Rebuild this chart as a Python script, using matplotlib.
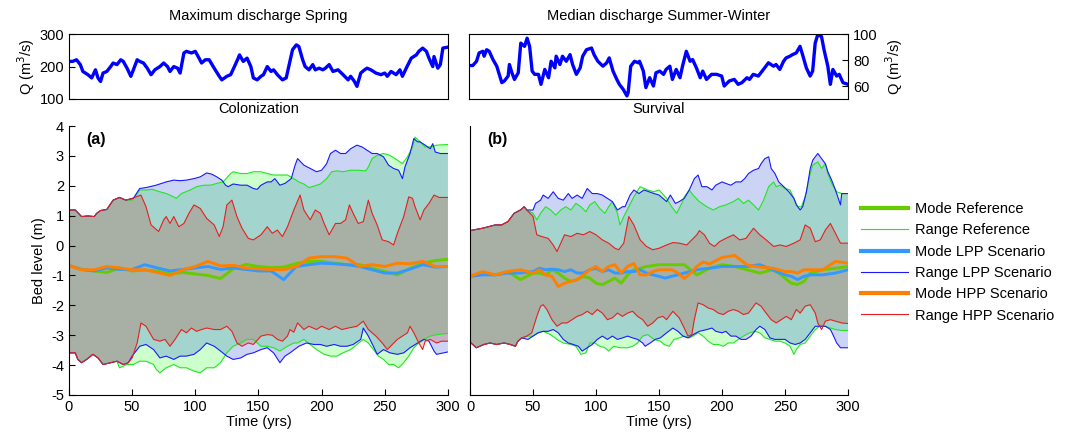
import numpy as np
import matplotlib
matplotlib.use("Agg")
import matplotlib.pyplot as plt

plt.rcParams['font.family'] = ['Liberation Sans', 'DejaVu Sans']
plt.rcParams['font.size'] = 10.5
plt.rcParams['axes.unicode_minus'] = False

# ---- discharge series (top panels) ----
q_spring_t = [0, 3, 6, 9, 11, 15, 18, 21, 23, 25, 27, 30, 33, 35, 38, 41, 43, 46, 49, 51, 54, 56, 59, 62, 65, 68, 70, 72, 75, 78,
              80, 83, 86, 88, 91, 93, 97, 100, 103, 105, 108, 111, 115, 119, 121, 125, 128, 131, 134, 135, 138, 141, 144, 146, 149,
              152, 154, 157, 160, 162, 165, 169, 172, 174, 177, 180, 182, 185, 187, 190, 193, 195, 198, 201, 203, 206, 209, 213,
              217, 221, 223, 226, 228, 231, 234, 236, 239, 243, 247, 250, 252, 255, 259, 262, 264, 267, 271, 275, 277, 280, 283,
              285, 288, 289, 292, 294, 296, 300]
q_spring = [216, 216, 221, 206, 185, 175, 165, 190, 165, 154, 180, 185, 200, 211, 206, 221, 216, 195, 170, 190, 221, 216, 211, 195,
            175, 190, 195, 200, 211, 200, 185, 200, 195, 180, 242, 247, 242, 247, 226, 211, 221, 221, 195, 170, 159, 170, 175, 200,
            226, 236, 216, 226, 200, 165, 159, 170, 175, 200, 185, 190, 175, 159, 165, 200, 252, 267, 262, 221, 200, 190, 206, 190,
            195, 190, 195, 206, 185, 190, 175, 159, 170, 154, 139, 180, 190, 195, 190, 180, 175, 180, 170, 185, 175, 190, 170, 195,
            226, 236, 247, 257, 247, 226, 200, 231, 195, 206, 257, 260]

q_winter_t = [0, 3, 6, 8, 11, 12, 14, 16, 19, 22, 24, 26, 28, 31, 32, 34, 36, 39, 41, 44, 46, 48, 50, 52, 55, 57, 60, 63, 65, 68,
              69, 72, 74, 77, 80, 82, 85, 88, 90, 93, 97, 99, 102, 106, 109, 111, 114, 117, 119, 122, 125, 126, 128, 131, 134, 135,
              138, 140, 143, 146, 148, 151, 154, 156, 159, 161, 164, 167, 169, 172, 175, 177, 180, 183, 185, 188, 192, 196, 200,
              202, 206, 210, 213, 216, 220, 222, 225, 229, 231, 234, 237, 241, 243, 246, 249, 251, 254, 256, 259, 262, 264, 267,
              270, 272, 274, 276, 279, 281, 284, 286, 288, 291, 293, 296, 300]
q_winter = [75.8, 75.8, 79.1, 85.5, 86.8, 83, 88, 86.8, 80.4, 75.3, 68.9, 62.6, 63.9, 67.7, 76.6, 70.2, 65.1, 70.2, 93.1, 90.6,
            96.9, 90.6, 71.5, 69, 69, 61.3, 72.8, 66.4, 79.1, 74, 83, 76.6, 83, 79.1, 84.2, 76.6, 69, 74, 83, 88, 89.3, 84.2, 79.1,
            75.3, 77.9, 81.7, 71.5, 65.1, 61.3, 57.5, 52.4, 55, 75.3, 79.1, 77.9, 79.1, 71.5, 58.8, 66.4, 60, 70.2, 71.5, 69, 72.8,
            75.3, 65.1, 72.8, 66.4, 75.3, 86.8, 79.1, 80.4, 74, 66.4, 71.5, 65.1, 69, 69, 67.7, 60, 63.9, 65.1, 61.3, 62.6, 66.4,
            65.1, 69, 67.7, 70.2, 74, 77.9, 75.3, 76.6, 72.8, 79.1, 81.7, 83, 84.2, 85.5, 90.6, 84.2, 74, 67.7, 71.5, 93.1, 99.5,
            98.2, 88, 75.3, 61.3, 72.8, 67.7, 69, 62.6, 61.3]

# ---- panel (a): Colonization ----
a_red_up_t = [0, 5, 10, 15, 20, 22, 25, 30, 35, 40, 45, 50, 55, 57, 61, 65, 71, 75, 77, 80, 83, 87, 91, 95, 99, 104, 109, 115,
              119, 122, 125, 129, 133, 137, 142, 146, 152, 157, 161, 165, 169, 173, 178, 183, 186, 191, 195, 199, 202, 206, 211,
              215, 219, 222, 225, 229, 233, 237, 240, 244, 248, 253, 257, 260, 265, 269, 272, 274, 278, 281, 285, 289, 293, 300]
a_red_up = [1.19, 1.19, 0.97, 0.99, 0.97, 1.08, 1.17, 1.21, 1.52, 1.61, 1.52, 1.58, 1.66, 1.69, 1.3, 0.69, 0.47, 0.86, 0.97,
            0.74, 0.97, 0.63, 0.74, 1.08, 1.36, 1.24, 0.91, 0.69, 0.3, 0.63, 1.36, 1.52, 0.97, 0.58, 0.24, 0.19, 0.36, 0.63, 0.41,
            0.52, 0.3, 0.63, 1.19, 1.69, 1.19, 0.86, 1.19, 1.08, 0.74, 0.36, 0.74, 0.74, 0.86, 1.36, 1.08, 0.74, 0.8, 1.52, 1.08,
            0.69, 0.19, 0.13, 0.02, 0.41, 0.97, 1.63, 1.58, 1.3, 0.86, 1.19, 1.41, 1.69, 1.61, 1.61]

a_grn_up_t = [0, 5, 10, 15, 20, 22, 25, 30, 35, 40, 45, 50, 56, 61, 66, 72, 77, 83, 85, 89, 96, 101, 107, 112, 117, 122, 128,
              130, 136, 141, 146, 152, 157, 162, 167, 173, 178, 182, 186, 190, 194, 199, 204, 208, 212, 217, 223, 228, 235, 237,
              240, 244, 249, 254, 260, 264, 268, 272, 274, 278, 282, 287, 291, 300]
a_grn_up = [1.19, 1.19, 0.97, 0.99, 0.97, 1.08, 1.17, 1.21, 1.52, 1.61, 1.52, 1.52, 1.86, 1.86, 1.88, 1.8, 1.74, 1.63, 1.58,
            1.74, 1.86, 1.97, 2.02, 2.02, 2.08, 2.13, 2.41, 2.47, 2.41, 2.41, 2.47, 2.47, 2.41, 2.36, 2.36, 2.36, 2.24, 2.13, 2.06,
            1.94, 1.99, 2.06, 2.24, 2.47, 2.5, 2.47, 2.52, 2.52, 2.5, 2.63, 2.91, 3.02, 3.08, 3.02, 2.86, 2.74, 2.97, 3.3, 3.63,
            3.47, 3.3, 3.3, 3.36, 3.38]

a_blu_up_t = [0, 5, 10, 15, 20, 22, 25, 30, 35, 40, 45, 51, 56, 61, 69, 77, 83, 88, 93, 99, 104, 109, 113, 117, 121, 124, 126,
              130, 136, 141, 146, 149, 152, 157, 160, 163, 167, 171, 176, 179, 181, 186, 191, 196, 200, 204, 207, 211, 215, 219,
              223, 228, 232, 236, 240, 244, 249, 253, 257, 261, 264, 266, 270, 273, 276, 278, 282, 286, 288, 290, 294, 300]
a_blu_up = [1.19, 1.19, 0.97, 0.99, 0.97, 1.08, 1.17, 1.21, 1.52, 1.61, 1.52, 1.58, 1.91, 1.94, 2.02, 2.13, 2.19, 2.17, 2.19,
            2.24, 2.3, 2.43, 2.39, 2.3, 2.19, 2.02, 1.97, 2.06, 2.02, 2.02, 1.91, 1.88, 2.02, 2.13, 2.13, 2.24, 2.02, 2.08, 2.24,
            2.69, 2.91, 2.69, 2.58, 2.47, 2.52, 2.74, 3.08, 3.19, 3.08, 3.08, 3.24, 3.36, 3.3, 3.19, 3.08, 3.08, 2.97, 2.69, 2.58,
            2.52, 2.24, 2.63, 3.08, 3.58, 3.47, 3.47, 3.36, 3.24, 3.41, 3.13, 3.08, 3.08]

a_red_lo_t = [0, 5, 7, 10, 14, 19, 23, 27, 33, 38, 43, 47, 50, 54, 57, 61, 67, 72, 76, 80, 84, 89, 93, 97, 101, 105, 109, 115,
              120, 125, 129, 133, 137, 142, 146, 152, 157, 161, 165, 169, 173, 175, 178, 181, 186, 190, 196, 200, 206, 211, 216,
              221, 228, 233, 237, 243, 248, 252, 256, 260, 264, 268, 270, 273, 277, 280, 282, 286, 291, 295, 300]
a_red_lo = [-3.59, -3.59, -3.81, -3.92, -3.81, -3.64, -3.76, -3.98, -3.92, -3.87, -3.98, -3.92, -3.76, -3.26, -2.59, -2.7, -3.14,
            -3.2, -3.14, -3.37, -3.14, -2.81, -2.92, -2.76, -2.87, -2.81, -2.76, -2.81, -2.81, -2.7, -2.87, -3.26, -3.37, -3.26,
            -3.31, -3.03, -2.98, -3.0, -3.14, -3.2, -3.03, -2.81, -2.9, -2.59, -2.81, -2.7, -2.81, -2.7, -2.81, -2.7, -2.81, -2.76,
            -2.7, -2.53, -2.81, -3.03, -3.26, -3.48, -3.31, -3.14, -3.03, -2.92, -2.7, -2.92, -3.26, -3.48, -3.2, -3.14, -3.26,
            -3.2, -3.2]

a_blu_lo_t = [0, 5, 7, 10, 14, 19, 23, 27, 33, 38, 43, 47, 50, 56, 61, 67, 72, 77, 83, 88, 93, 99, 104, 109, 115, 120, 125, 130,
              136, 141, 146, 152, 157, 162, 167, 171, 175, 182, 188, 194, 199, 204, 210, 215, 220, 225, 231, 233, 237, 241, 244,
              249, 254, 260, 265, 270, 276, 281, 285, 289, 291, 300]
a_blu_lo = [-3.59, -3.59, -3.81, -3.92, -3.81, -3.64, -3.76, -3.98, -3.92, -3.87, -3.98, -3.92, -3.7, -3.37, -3.31, -3.48, -3.76,
            -3.7, -3.81, -3.7, -3.7, -3.64, -3.48, -3.26, -3.37, -3.53, -3.7, -3.81, -3.76, -3.64, -3.59, -3.48, -3.42, -3.59,
            -3.92, -3.7, -3.59, -3.37, -3.26, -3.31, -3.31, -3.37, -3.31, -3.37, -3.37, -3.31, -3.14, -2.76, -3.03, -3.37, -3.64,
            -3.48, -3.59, -3.64, -3.59, -3.42, -3.26, -3.14, -3.2, -3.53, -3.64, -3.56]

a_grn_lo_t = [0, 5, 7, 10, 14, 19, 23, 27, 33, 38, 40, 46, 51, 56, 61, 67, 69, 72, 77, 83, 88, 93, 99, 104, 109, 115, 120, 125,
              130, 136, 141, 146, 152, 157, 162, 167, 173, 178, 181, 186, 191, 196, 202, 207, 212, 217, 223, 228, 233, 237, 241,
              245, 249, 253, 257, 261, 265, 269, 273, 277, 281, 286, 291, 300]
a_grn_lo = [-3.59, -3.59, -3.81, -3.92, -3.81, -3.64, -3.76, -3.98, -3.92, -3.87, -4.09, -3.98, -3.98, -3.87, -3.87, -3.98, -4.14,
            -4.26, -4.09, -3.98, -4.09, -4.09, -4.2, -4.26, -4.09, -4.09, -3.92, -3.59, -3.37, -3.26, -3.14, -3.14, -3.37, -3.37,
            -3.42, -3.53, -3.37, -3.26, -3.26, -3.14, -3.31, -3.48, -3.64, -3.7, -3.7, -3.59, -3.48, -3.31, -3.14, -3.26, -3.48,
            -3.7, -3.81, -3.98, -3.98, -4.09, -3.92, -3.7, -3.42, -3.26, -3.14, -3.03, -2.98, -2.94]

a_mode_t = [0, 10, 20, 30, 40, 50, 60, 70, 80, 90, 100, 110, 120, 130, 140, 150, 160, 170, 180, 190, 200, 210, 220, 230, 240,
            250, 260, 270, 280, 290, 300]
a_mode_grn = [-0.67, -0.8, -0.85, -0.9, -0.75, -0.85, -0.82, -0.85, -0.95, -0.9, -0.95, -1.0, -1.1, -0.78, -0.63, -0.7, -0.74,
              -0.72, -0.6, -0.53, -0.53, -0.59, -0.64, -0.64, -0.76, -0.87, -0.98, -0.76, -0.59, -0.5, -0.46]
a_mode_blu = [-0.67, -0.8, -0.85, -0.75, -0.8, -0.8, -0.64, -0.75, -0.85, -0.8, -0.75, -0.7, -0.8, -0.75, -0.8, -0.85, -0.85,
              -1.14, -0.7, -0.64, -0.59, -0.61, -0.64, -0.7, -0.81, -0.92, -0.92, -0.79, -0.64, -0.72, -0.7]
a_mode_org = [-0.67, -0.81, -0.81, -0.7, -0.75, -0.81, -0.81, -0.9, -1.0, -0.81, -0.7, -0.53, -0.68, -0.66, -0.75, -0.78, -0.8,
              -0.81, -0.7, -0.42, -0.37, -0.37, -0.42, -0.7, -0.64, -0.7, -0.59, -0.61, -0.53, -0.7, -0.7]

# ---- panel (b): Survival ----
b_red_up_t = [0, 10, 20, 25, 30, 35, 40, 43, 45, 50, 53, 57, 62, 66, 69, 72, 75, 80, 85, 90, 95, 100, 105, 110, 115, 118, 122,
              126, 130, 135, 140, 145, 150, 156, 161, 166, 172, 176, 180, 182, 186, 190, 194, 198, 203, 209, 214, 219, 225, 230,
              235, 241, 246, 251, 257, 262, 266, 270, 274, 278, 282, 286, 290, 294, 300]
b_red_up = [0.5, 0.58, 0.69, 0.69, 0.8, 1.08, 1.19, 1.3, 1.19, 0.97, 0.36, 0.3, 0.24, 0.02, -0.2, 0.08, 0.36, 0.3, 0.41, 0.36,
            0.47, 0.36, 0.19, 0.08, -0.09, -0.14, 0.08, 0.97, 0.69, 0.19, -0.03, -0.14, -0.09, 0.02, 0.1, 0.08, 0.02, 0.19, 0.36,
            0.5, 0.36, 0.08, -0.03, 0.13, 0.24, 0.36, 0.19, 0.24, 0.58, 0.36, 0.19, -0.03, 0.02, -0.03, 0.08, 0.19, 0.69, 0.58,
            0.13, 0.19, 0.52, 0.74, 0.41, 0.08, 0.08]

b_grn_up_t = [0, 10, 20, 25, 30, 35, 40, 43, 45, 50, 53, 56, 60, 64, 68, 72, 76, 80, 84, 88, 92, 95, 99, 103, 107, 110, 113, 117,
              119, 122, 126, 130, 135, 141, 146, 150, 156, 160, 164, 168, 170, 174, 177, 182, 188, 193, 198, 203, 209, 213, 217,
              221, 225, 229, 233, 237, 241, 243, 246, 250, 254, 257, 260, 263, 266, 270, 272, 276, 279, 282, 284, 287, 291, 295, 300]
b_grn_up = [0.5, 0.58, 0.69, 0.69, 0.8, 1.08, 1.19, 1.3, 1.19, 1.08, 0.86, 1.08, 1.3, 1.19, 1.02, 1.19, 1.3, 1.19, 1.41, 1.3,
            1.13, 1.36, 1.47, 1.24, 1.08, 1.3, 1.47, 1.08, 0.69, 0.97, 1.3, 1.63, 1.97, 1.86, 1.8, 1.86, 1.58, 1.3, 1.08, 1.41,
            1.63, 1.86, 1.69, 1.47, 1.3, 1.19, 1.3, 1.36, 1.47, 1.58, 1.41, 1.52, 1.36, 1.19, 1.52, 1.97, 2.13, 1.97, 2.02, 1.91,
            1.86, 1.58, 1.3, 1.3, 1.63, 2.41, 2.69, 2.8, 2.58, 2.74, 2.41, 2.08, 1.8, 1.74, 1.74]

b_blu_up_t = [0, 10, 20, 25, 30, 35, 40, 43, 45, 50, 52, 56, 58, 62, 66, 70, 74, 78, 81, 85, 89, 93, 97, 101, 105, 109, 113, 117,
              121, 123, 127, 130, 134, 138, 142, 146, 150, 153, 156, 159, 163, 166, 170, 174, 178, 181, 184, 188, 192, 195, 200,
              203, 207, 211, 215, 218, 221, 225, 229, 231, 234, 237, 239, 242, 245, 249, 253, 257, 259, 262, 264, 267, 270, 272,
              276, 279, 282, 284, 287, 290, 294, 295, 300]
b_blu_up = [0.5, 0.58, 0.69, 0.69, 0.8, 1.08, 1.19, 1.3, 1.19, 1.19, 1.41, 1.52, 1.69, 1.58, 1.8, 1.58, 1.52, 1.74, 1.58, 1.69,
            1.58, 1.91, 1.74, 1.74, 1.69, 1.58, 1.47, 1.19, 1.3, 1.3, 1.69, 1.86, 1.74, 1.86, 1.8, 1.74, 1.69, 1.58, 1.47, 1.69,
            1.41, 1.47, 1.58, 1.86, 2.24, 2.36, 1.97, 1.97, 1.86, 2.02, 2.13, 2.08, 2.02, 2.13, 2.13, 2.24, 2.41, 2.52, 2.58, 2.74,
            2.91, 2.97, 2.58, 2.41, 2.13, 1.97, 1.8, 1.58, 1.36, 1.19, 1.3, 1.8, 2.58, 2.86, 3.08, 2.91, 2.74, 2.47, 2.19, 1.86,
            1.36, 1.74, 1.74]

b_red_lo_t = [0, 5, 11, 16, 21, 27, 32, 36, 38, 41, 45, 49, 53, 56, 58, 61, 65, 69, 73, 77, 81, 85, 89, 93, 97, 101, 105, 109,
              113, 117, 121, 125, 129, 133, 137, 141, 145, 149, 153, 156, 161, 166, 170, 173, 176, 178, 181, 185, 189, 193, 197,
              201, 205, 209, 213, 217, 221, 225, 227, 231, 235, 239, 243, 247, 251, 255, 259, 262, 266, 270, 274, 276, 279, 282,
              286, 290, 295, 300]
b_red_lo = [-3.23, -3.42, -3.31, -3.26, -3.31, -3.26, -3.31, -3.37, -3.2, -3.09, -3.03, -2.92, -2.37, -2.03, -1.98, -2.14, -2.48,
            -2.7, -2.59, -2.59, -2.48, -2.37, -2.31, -2.2, -2.31, -2.14, -2.26, -2.48, -2.42, -2.26, -2.37, -2.26, -2.2, -2.37,
            -2.48, -2.7, -2.59, -2.42, -2.37, -2.48, -2.2, -2.42, -2.76, -3.03, -2.98, -2.48, -1.92, -1.98, -2.09, -2.14, -2.26,
            -2.31, -2.2, -2.14, -2.2, -2.31, -2.26, -2.03, -1.92, -2.03, -2.26, -2.48, -2.59, -2.48, -2.37, -2.48, -2.14, -2.26,
            -2.03, -1.98, -2.26, -2.59, -2.81, -2.53, -2.48, -2.53, -2.59, -2.61]

b_blu_lo_t = [0, 5, 11, 16, 21, 27, 32, 36, 38, 41, 46, 50, 54, 58, 62, 66, 70, 74, 78, 82, 86, 89, 93, 97, 101, 105, 109, 113,
              117, 121, 125, 129, 133, 137, 139, 143, 147, 151, 156, 161, 165, 169, 173, 177, 182, 188, 192, 195, 200, 203, 207,
              211, 215, 219, 223, 227, 230, 234, 238, 242, 246, 250, 254, 258, 262, 266, 270, 274, 278, 282, 286, 288, 291, 294, 300]
b_blu_lo = [-3.23, -3.42, -3.31, -3.26, -3.31, -3.26, -3.31, -3.37, -3.2, -3.09, -3.14, -3.03, -2.92, -2.87, -2.87, -2.81, -2.92,
            -3.14, -3.26, -3.31, -3.37, -3.53, -3.42, -3.31, -3.14, -3.03, -3.14, -3.03, -3.14, -3.09, -3.03, -3.09, -3.14, -3.26,
            -3.37, -3.26, -3.14, -3.09, -2.92, -2.76, -2.87, -3.03, -3.09, -2.98, -2.87, -2.81, -2.76, -2.87, -2.92, -2.87, -3.03,
            -3.03, -3.14, -3.14, -3.03, -2.81, -2.7, -2.81, -3.09, -3.14, -3.14, -3.14, -3.26, -3.31, -3.26, -3.14, -2.92, -2.7,
            -2.7, -2.7, -2.81, -2.98, -3.26, -3.42, -3.42]

b_grn_lo_t = [0, 5, 11, 16, 21, 27, 32, 36, 38, 41, 46, 50, 54, 58, 64, 69, 74, 80, 84, 88, 92, 95, 99, 103, 107, 110, 114, 119,
              125, 129, 133, 137, 141, 146, 151, 154, 158, 162, 166, 170, 174, 177, 181, 185, 189, 193, 197, 201, 205, 209, 213,
              217, 222, 226, 230, 234, 238, 242, 246, 250, 254, 257, 259, 262, 266, 270, 274, 278, 282, 286, 290, 295, 300]
b_grn_lo = [-3.23, -3.42, -3.31, -3.26, -3.31, -3.26, -3.31, -3.37, -3.2, -3.09, -3.03, -3.03, -2.92, -2.87, -2.98, -3.14, -3.26,
            -3.31, -3.37, -3.64, -3.59, -3.26, -3.26, -3.37, -3.42, -3.53, -3.37, -3.42, -3.42, -3.37, -3.26, -3.03, -2.98, -3.14,
            -3.2, -3.31, -3.37, -3.14, -3.09, -3.03, -3.09, -3.03, -2.92, -3.03, -3.2, -3.31, -3.31, -3.37, -3.26, -3.26, -3.14,
            -3.03, -2.92, -2.87, -2.92, -3.09, -3.14, -3.2, -3.2, -3.26, -3.37, -3.64, -3.48, -3.31, -3.26, -3.03, -2.81, -2.68,
            -2.7, -2.76, -2.81, -2.84, -2.84]

b_mode_t = [0, 10, 20, 30, 40, 50, 55, 60, 65, 70, 75, 80, 85, 90, 95, 100, 105, 110, 115, 120, 125, 130, 135, 140, 145, 150,
            155, 160, 165, 170, 175, 180, 185, 190, 200, 210, 220, 230, 240, 245, 250, 255, 260, 265, 270, 280, 290, 300]
b_mode_grn = [-1.03, -0.92, -0.98, -0.87, -1.14, -0.92, -0.92, -0.98, -0.81, -0.92, -1.09, -1.2, -1.14, -1.03, -1.09, -1.26,
              -1.31, -1.2, -1.09, -1.26, -0.98, -0.81, -0.76, -0.7, -0.67, -0.64, -0.64, -0.64, -0.64, -0.64, -0.81, -0.98, -0.87,
              -0.76, -0.64, -0.7, -0.81, -0.92, -0.81, -0.92, -1.09, -1.26, -1.3, -1.2, -0.92, -0.81, -0.76, -0.7]
b_mode_blu = [-1.03, -0.98, -0.98, -0.92, -0.92, -0.87, -0.76, -0.81, -0.79, -0.81, -0.87, -0.81, -0.92, -0.92, -0.81, -0.76,
              -0.87, -0.81, -0.92, -0.92, -0.87, -0.87, -0.81, -0.92, -0.98, -1.03, -1.09, -1.03, -0.98, -0.92, -0.87, -0.81,
              -0.78, -0.76, -0.7, -0.7, -0.7, -0.64, -0.81, -0.9, -0.98, -1.03, -1.14, -1.03, -0.98, -0.98, -0.92, -0.81]
b_mode_org = [-1.03, -0.87, -0.98, -0.87, -0.81, -0.92, -0.81, -0.98, -1.03, -1.37, -1.26, -1.2, -1.14, -0.98, -0.81, -0.7,
              -0.87, -0.7, -0.64, -0.92, -0.7, -0.6, -0.98, -0.98, -0.87, -0.81, -0.81, -0.81, -0.92, -1.1, -0.92, -0.7, -0.55,
              -0.62, -0.4, -0.33, -0.65, -0.72, -0.76, -0.81, -0.87, -0.87, -0.92, -0.81, -0.81, -0.81, -0.53, -0.59]

LINE_G, LINE_B, LINE_R = '#22e622', '#1a1aff', '#e62020'
FILL_G, FILL_B, FILL_R = '#00ff00', '#0028d2', '#be1e00'
MODE_G, MODE_B, MODE_O = '#66cc00', '#3399ff', '#ff8000'


def band(ax, tu, vu, tl, vl, fc):
    xs = np.r_[tu, tl[::-1]]
    ys = np.r_[vu, vl[::-1]]
    ax.fill(xs, ys, color=fc, alpha=0.2, lw=0)


def draw_panel(ax, d, letter):
    band(ax, d['gu_t'], d['gu'], d['gl_t'], d['gl'], FILL_G)
    band(ax, d['bu_t'], d['bu'], d['bl_t'], d['bl'], FILL_B)
    band(ax, d['ru_t'], d['ru'], d['rl_t'], d['rl'], FILL_R)
    ax.plot(d['gu_t'], d['gu'], color=LINE_G, lw=0.8)
    ax.plot(d['gl_t'], d['gl'], color=LINE_G, lw=0.8)
    ax.plot(d['bu_t'], d['bu'], color=LINE_B, lw=0.8)
    ax.plot(d['bl_t'], d['bl'], color=LINE_B, lw=0.8)
    ax.plot(d['ru_t'], d['ru'], color=LINE_R, lw=0.8)
    ax.plot(d['rl_t'], d['rl'], color=LINE_R, lw=0.8)
    ax.plot(d['m_t'], d['mg'], color=MODE_G, lw=2.1)
    ax.plot(d['m_t'], d['mb'], color=MODE_B, lw=2.1)
    ax.plot(d['m_t'], d['mo'], color=MODE_O, lw=2.1)
    ax.set_xlim(0, 300)
    ax.set_ylim(-5, 4)
    ax.set_xticks(range(0, 301, 50))
    ax.spines['top'].set_visible(False)
    ax.spines['right'].set_visible(False)
    ax.tick_params(direction='in', length=4, labelsize=10.5)
    ax.set_xlabel('Time (yrs)', labelpad=1)
    ax.text(0.045, 0.95, letter, transform=ax.transAxes, fontweight='bold', fontsize=11.5, va='center')


fig = plt.figure(figsize=(10.69, 4.38), dpi=100)

# top discharge panels
ax1 = fig.add_axes([0.0645, 0.774, 0.3545, 0.148])
ax1.plot(q_spring_t, q_spring, color='#0000ff', lw=2.4)
ax1.set_xlim(0, 300)
ax1.set_ylim(100, 300)
ax1.set_yticks([100, 200, 300])
ax1.set_xticks([])
ax1.tick_params(direction='in', length=4, labelsize=10.5)
ax1.set_title('Maximum discharge Spring', fontsize=10.5, pad=10)
ax1.set_xlabel('Colonization', labelpad=2)
ax1.set_ylabel('Q (m$^3$/s)', labelpad=2)

ax2 = fig.add_axes([0.4387, 0.774, 0.3546, 0.148])
ax2.plot(q_winter_t, q_winter, color='#0000ff', lw=2.4)
ax2.set_xlim(0, 300)
ax2.set_ylim(50, 100)
ax2.set_yticks([60, 80, 100])
ax2.set_xticks([])
ax2.yaxis.tick_right()
ax2.yaxis.set_label_position('right')
ax2.tick_params(direction='in', length=4, labelsize=10.5)
ax2.set_title('Median discharge Summer-Winter', fontsize=10.5, pad=10)
ax2.set_xlabel('Survival', labelpad=2)
ax2.set_ylabel('Q (m$^3$/s)', labelpad=4)

# main panels
axa = fig.add_axes([0.0645, 0.0982, 0.3545, 0.6141])
axb = fig.add_axes([0.4397, 0.0982, 0.3536, 0.6141])

panel_a = dict(gu_t=np.array(a_grn_up_t), gu=np.array(a_grn_up), gl_t=np.array(a_grn_lo_t), gl=np.array(a_grn_lo),
               bu_t=np.array(a_blu_up_t), bu=np.array(a_blu_up), bl_t=np.array(a_blu_lo_t), bl=np.array(a_blu_lo),
               ru_t=np.array(a_red_up_t), ru=np.array(a_red_up), rl_t=np.array(a_red_lo_t), rl=np.array(a_red_lo),
               m_t=a_mode_t, mg=a_mode_grn, mb=a_mode_blu, mo=a_mode_org)
panel_b = dict(gu_t=np.array(b_grn_up_t), gu=np.array(b_grn_up), gl_t=np.array(b_grn_lo_t), gl=np.array(b_grn_lo),
               bu_t=np.array(b_blu_up_t), bu=np.array(b_blu_up), bl_t=np.array(b_blu_lo_t), bl=np.array(b_blu_lo),
               ru_t=np.array(b_red_up_t), ru=np.array(b_red_up), rl_t=np.array(b_red_lo_t), rl=np.array(b_red_lo),
               m_t=b_mode_t, mg=b_mode_grn, mb=b_mode_blu, mo=b_mode_org)

draw_panel(axa, panel_a, '(a)')
axa.set_yticks(range(-5, 5))
axa.set_ylabel('Bed level (m)', labelpad=4)

draw_panel(axb, panel_b, '(b)')
axb.set_yticks([])

# legend
handles = [
    plt.Line2D([], [], color=MODE_G, lw=3),
    plt.Line2D([], [], color=LINE_G, lw=0.8),
    plt.Line2D([], [], color=MODE_B, lw=3),
    plt.Line2D([], [], color=LINE_B, lw=0.8),
    plt.Line2D([], [], color=MODE_O, lw=3),
    plt.Line2D([], [], color=LINE_R, lw=0.8),
]
labels = ['Mode Reference', 'Range Reference', 'Mode LPP Scenario', 'Range LPP Scenario',
          'Mode HPP Scenario', 'Range HPP Scenario']
fig.legend(handles, labels, loc='upper left', bbox_to_anchor=(848 / 1069, 1 - 189 / 438), frameon=False,
           fontsize=10.5, handlelength=3.2, handletextpad=0.5, labelspacing=0.5)

fig.savefig('out.png', dpi=100)
